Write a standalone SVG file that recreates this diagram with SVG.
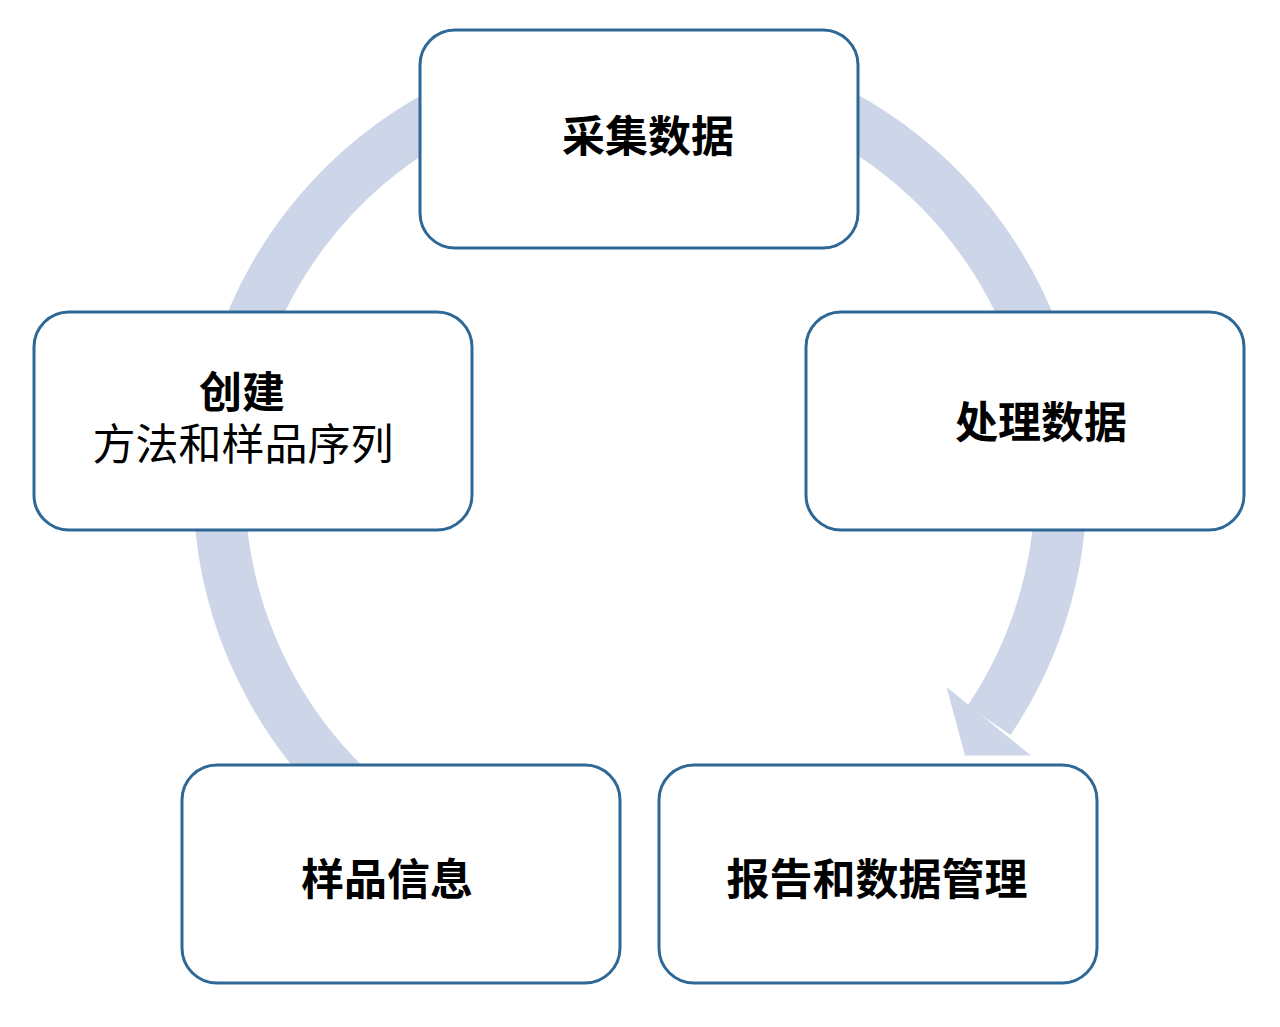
<svg xmlns="http://www.w3.org/2000/svg" width="1280" height="1027" viewBox="0 0 1280 1027">
<style>
.box{fill:#ffffff;stroke:#2E6896;stroke-width:3}
.lbl{font-family:"Noto Sans CJK SC","Noto Sans",sans-serif;font-size:43px;fill:#000000;text-anchor:middle}
.b{font-weight:700}
.band{fill:none;stroke:#CDD6E9;stroke-width:52;stroke-linecap:butt}
</style>
<rect width="1280" height="1027" fill="#ffffff"/>
<g id="connectors">
<path class="band" d="M369.4,807.5 A421,421 0 1 1 989,720.4"/>
<polygon points="946.5,687 1031,755.5 965,755.5" fill="#CDD6E9"/>
</g>
<g id="node-collect">
<rect class="box" x="420" y="30" width="438" height="218" rx="35"/>
<text class="lbl b" x="648" y="152">采集数据</text>
</g>
<g id="node-process">
<rect class="box" x="806" y="312" width="438" height="218" rx="35"/>
<text class="lbl b" x="1041" y="438">处理数据</text>
</g>
<g id="node-report">
<rect class="box" x="659" y="765" width="438" height="218" rx="35"/>
<text class="lbl b" x="877" y="895">报告和数据管理</text>
</g>
<g id="node-sample">
<rect class="box" x="182" y="765" width="438" height="218" rx="35"/>
<text class="lbl b" x="387" y="895">样品信息</text>
</g>
<g id="node-create">
<rect class="box" x="34" y="312" width="438" height="218" rx="35"/>
<text class="lbl b" x="242" y="408">创建</text>
<text class="lbl" x="243" y="460">方法和样品序列</text>
</g>
</svg>
